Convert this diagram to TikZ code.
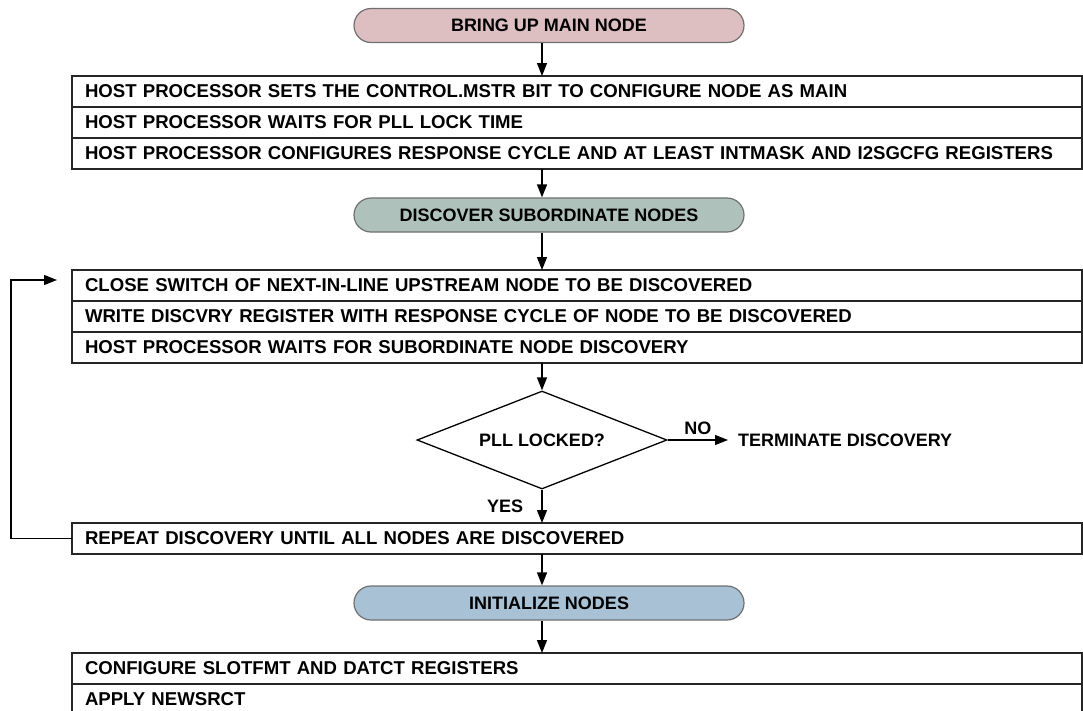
\documentclass[tikz,border=0pt]{standalone}
\usepackage{fontspec}
\setmainfont{Liberation Sans}
\usetikzlibrary{arrows.meta,positioning,shapes.geometric,shapes.misc}

\definecolor{pillred}{RGB}{221,190,193}
\definecolor{pillgreen}{RGB}{174,193,187}
\definecolor{pillblue}{RGB}{168,193,213}
\definecolor{edgegray}{RGB}{112,112,112}

\begin{document}
\begin{tikzpicture}[
  x=1pt, y=1pt,
  font=\fontsize{18}{20}\selectfont\bfseries,
  row/.style={draw=black!85, line width=1.5pt, outer sep=0pt, text width=984pt,
    font=\fontsize{18.6}{20}\selectfont\bfseries,
    align=left, inner xsep=13pt, inner ysep=0pt, minimum height=31pt, anchor=north west},
  pill/.style={rounded rectangle, draw=edgegray, line width=1.2pt,
    minimum width=390pt, minimum height=34pt, inner sep=0pt},
  decision/.style={diamond, draw, line width=1.3pt, aspect=2.55,
    minimum width=250pt, minimum height=98pt, inner sep=0pt},
  flow/.style={-{Triangle[length=13pt,width=10pt]}, line width=1.3pt},
]
  \useasboundingbox (0,0) rectangle (1083,-710);
  \coordinate (spine) at (542,0);

  \node[pill, fill=pillred] (bring) at (549,-25.5) {BRING UP MAIN NODE};
  \node[row] (host1) at (72,-76) {HOST PROCESSOR SETS THE CONTROL.MSTR BIT TO CONFIGURE NODE AS MAIN};
  \node[row, below=0pt of host1] (host2) {HOST PROCESSOR WAITS FOR PLL LOCK TIME};
  \node[row, below=0pt of host2] (host3) {HOST PROCESSOR CONFIGURES RESPONSE CYCLE AND AT LEAST INTMASK AND I2SGCFG REGISTERS};

  \node[pill, fill=pillgreen] (discover) at (549,-215) {DISCOVER SUBORDINATE NODES};
  \node[row] (close) at (72,-270) {CLOSE SWITCH OF NEXT-IN-LINE UPSTREAM NODE TO BE DISCOVERED};
  \node[row, below=0pt of close] (write) {WRITE DISCVRY REGISTER WITH RESPONSE CYCLE OF NODE TO BE DISCOVERED};
  \node[row, below=0pt of write] (wait) {HOST PROCESSOR WAITS FOR SUBORDINATE NODE DISCOVERY};

  \node[decision] (locked) at (542,-440) {PLL LOCKED?};
  \node[anchor=west, inner xsep=10pt] (term) at (728,-440) {TERMINATE DISCOVERY};

  \node[row] (repeat) at (72,-523) {REPEAT DISCOVERY UNTIL ALL NODES ARE DISCOVERED};
  \node[pill, fill=pillblue] (init) at (549,-603) {INITIALIZE NODES};
  \node[row] (slot) at (72,-653) {CONFIGURE SLOTFMT AND DATCT REGISTERS};
  \node[row, below=0pt of slot] (apply) {APPLY NEWSRCT};

  \draw[flow] (bring.south -| spine) -- (host1.north -| spine);
  \draw[flow] (host3.south -| spine) -- (discover.north -| spine);
  \draw[flow] (discover.south -| spine) -- (close.north -| spine);
  \draw[flow] (wait.south -| spine) -- (locked.north);
  \draw[flow] (locked.east) -- (term.west) node[above=1pt, midway]{NO};
  \draw[flow] (locked.south) -- (repeat.north -| spine) node[left=15pt, midway]{YES};
  \draw[flow] (repeat.south -| spine) -- (init.north -| spine);
  \draw[flow] (init.south -| spine) -- (slot.north -| spine);

  % loop back for the next node
  \coordinate (loopin) at (57,-280);
  \draw[flow] (repeat.west) -- ++(-61,0) |- (loopin);
\end{tikzpicture}
\end{document}
